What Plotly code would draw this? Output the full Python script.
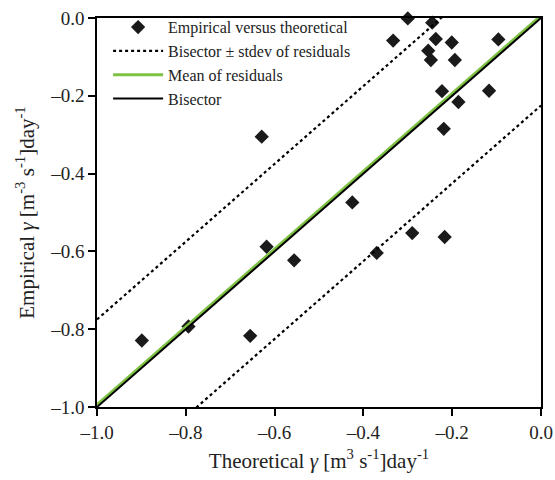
import plotly.graph_objects as go

theoretical = [-0.30, -0.245, -0.333, -0.237, -0.201, -0.096, -0.254, -0.248, -0.194,
               -0.223, -0.117, -0.186, -0.219, -0.629, -0.425, -0.290, -0.217, -0.618,
               -0.556, -0.899, -0.794, -0.655, -0.370]
empirical = [-0.001, -0.012, -0.058, -0.054, -0.063, -0.055, -0.084, -0.108, -0.108,
             -0.188, -0.187, -0.216, -0.285, -0.305, -0.474, -0.553, -0.563, -0.588,
             -0.623, -0.829, -0.793, -0.817, -0.604]
stdev_resid = 0.225
mean_resid = 0.006
line_x = [-1.0, 0.0]
tick_vals = [-1.0, -0.8, -0.6, -0.4, -0.2, 0.0]
tick_text = ["\u20131.0", "\u20130.8", "\u20130.6", "\u20130.4", "\u20130.2", "0.0"]

serif = "Liberation Serif, Times New Roman, serif"

fig = go.Figure()
fig.add_trace(go.Scatter(
    x=theoretical, y=empirical, mode="markers",
    marker=dict(symbol="diamond", size=11, color="#1a1a1a"),
    name="Empirical versus theoretical", cliponaxis=False))
fig.add_trace(go.Scatter(
    x=line_x + [None] + line_x,
    y=[v + stdev_resid for v in line_x] + [None] + [v - stdev_resid for v in line_x],
    mode="lines", line=dict(color="black", width=2.2, dash="dot"),
    name="Bisector \u00b1 stdev of residuals"))
fig.add_trace(go.Scatter(
    x=line_x, y=[v + mean_resid for v in line_x], mode="lines",
    line=dict(color="#7dc242", width=3), name="Mean of residuals"))
fig.add_trace(go.Scatter(
    x=line_x, y=line_x, mode="lines",
    line=dict(color="black", width=2), name="Bisector"))

axis_common = dict(
    range=[-1.0, 0.0], tickvals=tick_vals, ticktext=tick_text,
    ticks="outside", ticklen=7, tickwidth=1.5, tickcolor="black",
    showline=True, linecolor="black", linewidth=1.5, mirror=True,
    showgrid=False, zeroline=False, automargin=False,
    tickfont=dict(family=serif, size=19, color="#222"),
)

fig.update_layout(
    width=555, height=480,
    margin=dict(l=97, r=14, t=18, b=73, autoexpand=False),
    plot_bgcolor="white", paper_bgcolor="white",
    font=dict(family=serif, color="#222"),
    xaxis=dict(**axis_common,
               title=dict(text="Theoretical <i>\u03b3</i> [m<sup>3</sup> s<sup>-1</sup>]day<sup>-1</sup>",
                          font=dict(family=serif, size=21, color="#222"), standoff=12)),
    yaxis=dict(**axis_common,
               title=dict(text="Empirical <i>\u03b3</i> [m<sup>-3</sup> s<sup>-1</sup>]day<sup>-1</sup>",
                          font=dict(family=serif, size=21, color="#222"), standoff=10)),
    legend=dict(x=0.025, y=1.02, xanchor="left", yanchor="top",
                bgcolor="rgba(0,0,0,0)", borderwidth=0,
                font=dict(family=serif, size=16, color="#222"),
                itemwidth=50, tracegroupgap=0),
    showlegend=True,
)

fig.write_html("out.html")
